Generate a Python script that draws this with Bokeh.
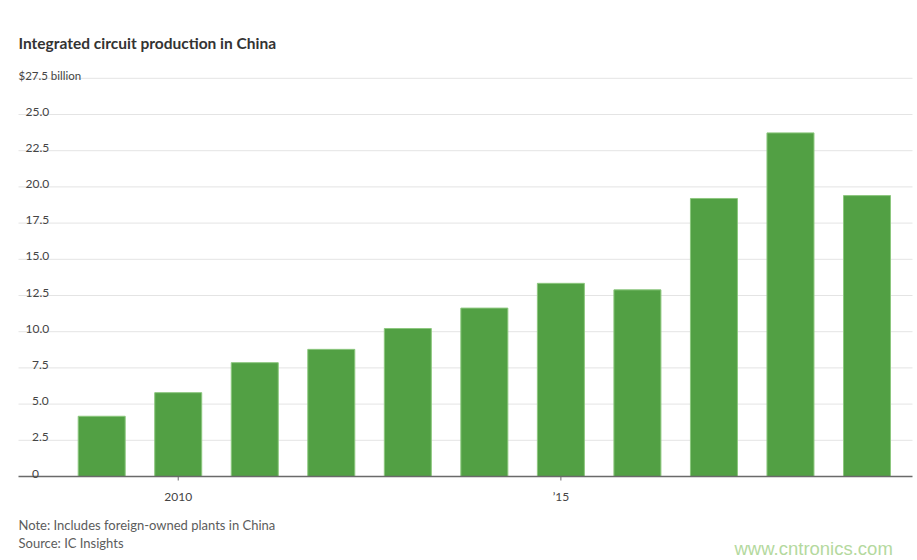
from bokeh.plotting import figure
from bokeh.models import Range1d, ColumnDataSource
from bokeh.core.properties import value
from bokeh.embed import file_html
from bokeh.resources import INLINE

# ---------------- data ----------------
years = [2009, 2010, 2011, 2012, 2013, 2014, 2015, 2016, 2017, 2018, 2019]
production = [4.16, 5.79, 7.86, 8.78, 10.22, 11.63, 13.34, 12.89, 19.2, 23.73, 19.4]
y_ticks = [0, 2.5, 5.0, 7.5, 10.0, 12.5, 15.0, 17.5, 20.0, 22.5, 25.0, 27.5]
y_tick_labels = ["0", "2.5", "5.0", "7.5", "10.0", "12.5", "15.0", "17.5",
                 "20.0", "22.5", "25.0", "$27.5 billion"]
x_ticks = [2010, 2015]
x_tick_labels = ["2010", "\u201915"]
title_text = "Integrated circuit production in China"
note_text = "Note: Includes foreign-owned plants in China"
source_text = "Source: IC Insights"
watermark_text = "www.cntronics.com"

# ---------------- layout (frame = whole canvas) ----------------
W, H = 917, 560
BAR0_PX = 101.2      # centre of the first bar, px from left
PPX = 76.53          # px per year
BASE_PX = 476.0      # baseline, px from top
PPY = 14.48          # px per $bn
X0 = years[0] - BAR0_PX / PPX
X1 = years[0] + (W - BAR0_PX) / PPX
Y1 = BASE_PX / PPY
Y0 = -(H - BASE_PX) / PPY


def px2x(px):
    return X0 + px / PPX


def py2y(py):
    return (BASE_PX - py) / PPY


FONT = "Lato"
GRID_L, GRID_R = px2x(18), px2x(912)

p = figure(width=W, height=H, title=None,
           x_range=Range1d(X0, X1), y_range=Range1d(Y0, Y1),
           x_axis_type=None, y_axis_type=None,
           output_backend="svg", toolbar_location=None,
           min_border_left=0, min_border_right=0,
           min_border_top=0, min_border_bottom=0)
p.outline_line_color = None
p.background_fill_color = "white"
p.border_fill_color = "white"
p.xgrid.visible = False
p.ygrid.visible = False

# horizontal gridlines
gy = y_ticks[1:]
p.segment(x0=[GRID_L] * len(gy), x1=[GRID_R] * len(gy), y0=gy, y1=gy,
          line_color="#e4e4e4", line_width=1)

# bars
src = ColumnDataSource(dict(year=years, value=production))
p.vbar(x="year", top="value", bottom=0, width=47 / PPX, source=src,
       fill_color="#52a044", line_color="#8cc77e", line_width=1)

# baseline and x ticks
p.segment(x0=[GRID_L], x1=[GRID_R], y0=[0], y1=[0], line_color="#6a6a6a", line_width=1.3)
p.segment(x0=x_ticks, x1=x_ticks, y0=[0] * len(x_ticks), y1=[-4 / PPY] * len(x_ticks),
          line_color="#6a6a6a", line_width=1)
p.text(x=x_ticks, y=[0] * len(x_ticks), text=x_tick_labels, y_offset=20,
       text_font=value(FONT), text_font_size="12px", text_color="#444444",
       text_align="center", text_baseline="alphabetic")

# y tick labels (drawn above gridlines, left side)
offsets = []
sizes = []
for lab in y_tick_labels:
    if lab.startswith("$"):
        offsets.append(0)
        sizes.append("11.5px")
    elif len(lab.split(".")[0]) == 2:
        offsets.append(7)
        sizes.append("12px")
    else:
        offsets.append(13.5)
        sizes.append("12px")
ysrc = ColumnDataSource(dict(x=[GRID_L] * len(y_ticks), y=y_ticks, text=y_tick_labels,
                             xo=offsets, fs=sizes))
p.text(x="x", y="y", text="text", x_offset="xo", y_offset=-3, source=ysrc,
       text_font=value(FONT), text_font_size="fs", text_color="#444444",
       text_align="left", text_baseline="alphabetic")


def add_text(txt, px, py, size, color, font=FONT, style="normal"):
    p.text(x=[px2x(px)], y=[py2y(py)], text=[txt], text_font=value(font),
           text_font_size=size, text_font_style=style, text_color=color,
           text_align="left", text_baseline="alphabetic")


add_text(title_text, 18, 42.5, "15.5px", "#333333", style="bold")
add_text(note_text, 18, 524.3, "13px", "#5c5c5c")
add_text(source_text, 18, 542.7, "13px", "#5c5c5c")
add_text(watermark_text, 734, 548, "18.5px", "#b4d99e", font="Liberation Sans")

open("out.html", "w").write(file_html(p, INLINE))
